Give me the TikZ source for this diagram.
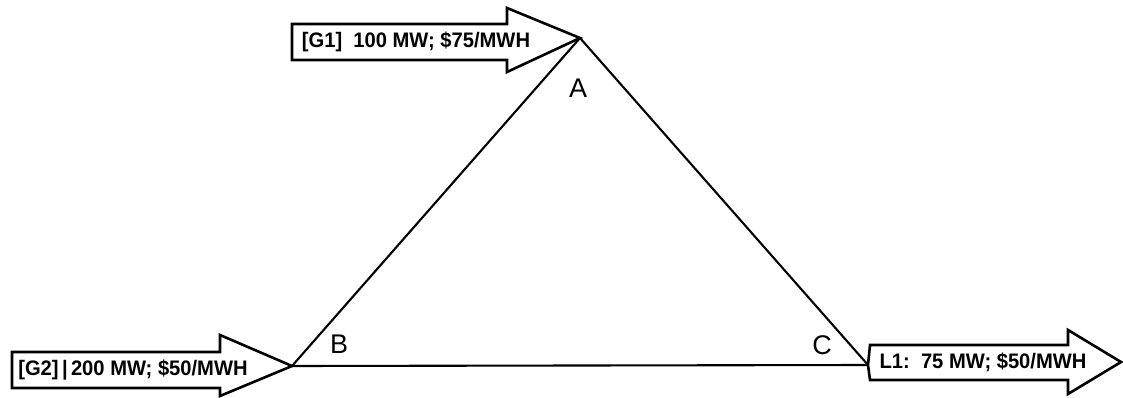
\documentclass[tikz,border=0pt]{standalone}
\usepackage{fontspec}
\setmainfont{Liberation Sans}
\begin{document}
\begin{tikzpicture}[x=1pt,y=-1pt,
  line/.style={line width=2.1pt, line join=miter},
  arr/.style={draw, line width=2.6pt, fill=white, line join=miter},
  lbl/.style={inner sep=0pt, font=\fontsize{21}{21}\selectfont\bfseries},
  vlbl/.style={inner sep=0pt, font=\fontsize{27}{27}\selectfont}]
\useasboundingbox (0,0) rectangle (1123,398);
\coordinate (A) at (580,38);
\coordinate (B) at (292,366);
\coordinate (C) at (868,365);
\draw[line] (A) -- (B);
\draw[line] (A) -- (C);
\draw[line] (B) -- (C);
% G1 arrow
\draw[arr] (292,24) -- (507,24) -- (507,8) -- (A) -- (507,72) -- (507,60) -- (292,60) -- cycle;
\node[lbl] (g1) at (416,42) {\scalebox{0.96}[1]{[G1]\ \ 100 MW; \$75/MWH}};
% G2 arrow
\draw[arr] (12,352) -- (220,352) -- (220,335) -- (B) -- (220,396) -- (220,388) -- (12,388) -- cycle;
\node[lbl] (g2) at (133,370) {\scalebox{0.96}[1]{[G2]\,|\,200 MW; \$50/MWH}};
% L1 arrow
\draw[arr] (C) -- (870,345) -- (1068,345) -- (1068,330) -- (1121,362) -- (1068,394) -- (1068,380) -- (870,380) -- cycle;
\coordinate (L) at (1121,362);
\node[lbl] (l1) at (983,362) {\scalebox{0.96}[1]{L1:\ \ 75 MW; \$50/MWH}};
% vertex labels
\node[vlbl] (la) at (578,88) {A};
\node[vlbl] (lb) at (339,344) {B};
\node[vlbl] (lc) at (822,345) {C};
\end{tikzpicture}
\end{document}
